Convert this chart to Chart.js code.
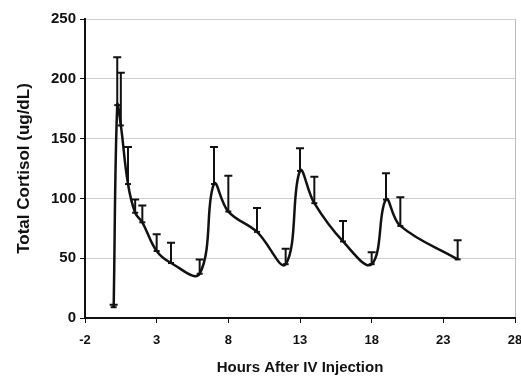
<!DOCTYPE html>
<html>
<head>
<meta charset="utf-8">
<script src="https://cdn.jsdelivr.net/npm/chart.js@4.4.0/dist/chart.umd.min.js"></script>
<style>
  html, body { margin: 0; padding: 0; background: #fff; overflow: hidden; }
  #wrap { width: 521px; height: 377px; }
</style>
</head>
<body>
<div id="wrap"><canvas id="chart" width="521" height="377"></canvas></div>
<script>
// data (hours after IV injection, mean cortisol, +SD)
const hours    = [0, 0.25, 0.5, 1, 1.5, 2, 3, 4, 6, 7, 8, 10, 12, 13, 14, 16, 18, 19, 20, 24];
const cortisol = [9, 178, 161, 112, 88, 80, 56, 46, 37, 112, 89, 72, 45, 123, 96, 64, 45, 99, 77, 49];
const sdUp     = [2, 40, 44, 31, 11, 14, 14, 17, 12, 31, 30, 20, 13, 19, 22, 17, 10, 22, 24, 16];
const xTicks   = [-2, 3, 8, 13, 18, 23, 28];
const yTicks   = [0, 50, 100, 150, 200, 250];

const FONT = "'Liberation Sans', Arial, sans-serif";

// upward error bars with caps
const errorBars = {
    id: 'errorBars',
    afterDatasetsDraw(chart) {
        const ctx = chart.ctx;
        const xs = chart.scales.x, ys = chart.scales.y;
        ctx.save();
        ctx.strokeStyle = '#111';
        ctx.lineWidth = 2;
        hours.forEach((h, i) => {
            const px = xs.getPixelForValue(h);
            const y0 = ys.getPixelForValue(cortisol[i]);
            const y1 = ys.getPixelForValue(cortisol[i] + sdUp[i]);
            ctx.beginPath();
            ctx.moveTo(px, y0);
            ctx.lineTo(px, y1);
            ctx.moveTo(px - 4, y1);
            ctx.lineTo(px + 4, y1);
            ctx.stroke();
        });
        ctx.restore();
    }
};

new Chart(document.getElementById('chart').getContext('2d'), {
    type: 'line',
    data: {
        datasets: [{
            data: hours.map((h, i) => ({ x: h, y: cortisol[i] })),
            borderColor: '#111',
            backgroundColor: '#111',
            borderWidth: 2.5,
            tension: 0.4,
            pointStyle: 'line',
            pointRadius: 3,
            pointBorderWidth: 2,
            fill: false
        }]
    },
    options: {
        responsive: false,
        animation: false,
        layout: { padding: { top: 19, right: 3, left: 0, bottom: 0 } },
        plugins: { legend: { display: false }, tooltip: { enabled: false } },
        scales: {
            x: {
                type: 'linear',
                min: -2,
                max: 28,
                afterBuildTicks: s => { s.ticks = xTicks.map(v => ({ value: v })); },
                afterFit: s => { s.height = 59; s.paddingRight = 0; s.paddingLeft = 0; },
                border: { color: '#111', width: 2 },
                grid: {
                    color: c => (c.tick && c.tick.value === 28) ? '#bdbdbd' : 'rgba(0,0,0,0)',
                    tickColor: '#111',
                    tickLength: 5,
                    lineWidth: 1
                },
                ticks: {
                    color: '#111',
                    padding: 10,
                    maxRotation: 0,
                    font: { family: FONT, size: 13, weight: 'bold' }
                },
                title: {
                    display: true,
                    text: 'Hours After IV Injection',
                    color: '#111',
                    padding: { top: 4, bottom: 0 },
                    font: { family: FONT, size: 15, weight: 'bold' }
                }
            },
            y: {
                min: 0,
                max: 250,
                afterBuildTicks: s => { s.ticks = yTicks.map(v => ({ value: v })); },
                afterFit: s => { s.width = 85; s.paddingTop = 0; s.paddingBottom = 0; },
                border: { color: '#111', width: 2 },
                grid: {
                    color: '#cfcfcf',
                    tickColor: '#111',
                    tickLength: 5,
                    lineWidth: 1
                },
                ticks: {
                    color: '#111',
                    padding: 4,
                    font: { family: FONT, size: 15, weight: 'bold' }
                },
                title: {
                    display: true,
                    text: 'Total Cortisol (ug/dL)',
                    color: '#111',
                    padding: { top: 14, bottom: 6 },
                    font: { family: FONT, size: 17, weight: 'bold' }
                }
            }
        }
    },
    plugins: [errorBars]
});
</script>
</body>
</html>
